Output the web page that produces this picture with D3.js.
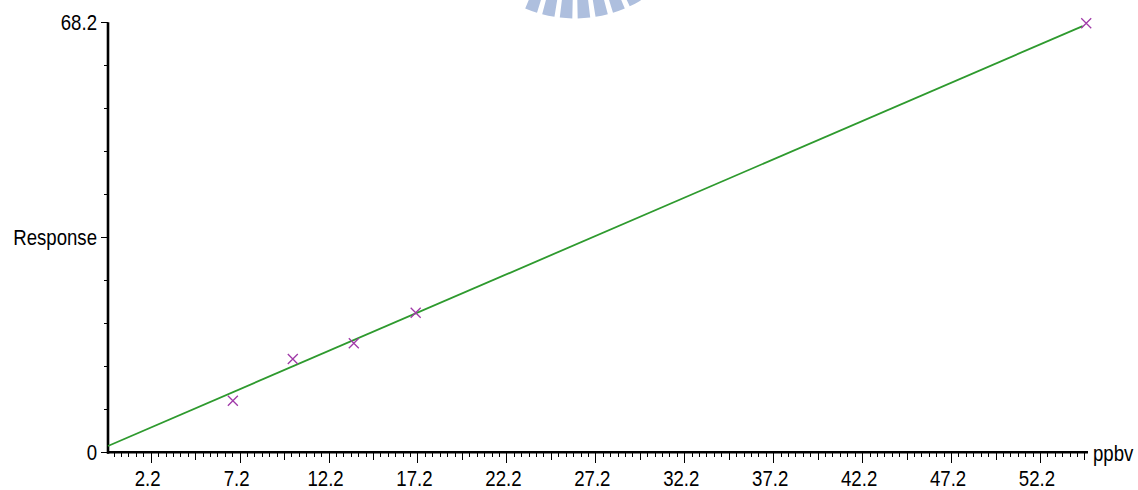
<!DOCTYPE html>
<html><head><meta charset="utf-8">
<script src="https://cdn.jsdelivr.net/npm/d3@7"></script>
<style>html,body{margin:0;padding:0;background:#fff;}svg{display:block;}</style>
</head><body>
<svg id="c" width="1138" height="490"></svg>
<script>
// Data
const pointX = [6.82, 10.19, 13.62, 17.10, 54.8];
const pointY = [8.18, 14.8, 17.29, 22.14, 68.04];
const fitX = [-0.2, 54.6];
const fitY = [1.0, 67.6];
const xTickValues = [2.2, 7.2, 12.2, 17.2, 22.2, 27.2, 32.2, 37.2, 42.2, 47.2, 52.2];
const xTickLabels = ["2.2","7.2","12.2","17.2","22.2","27.2","32.2","37.2","42.2","47.2","52.2"];
const yTickValues = [0, 34.1, 68.2];
const yTickLabels = ["0", "Response", "68.2"];
const xAxisTitle = "ppbv";

const svg = d3.select("#c");
const x = d3.scaleLinear().domain([-0.2, 54.9]).range([108, 1088]);
const y = d3.scaleLinear().domain([0, 68.2]).range([452.3, 22.3]);

const FONT = "'Liberation Sans', Arial, sans-serif";
const FS = 23, SX = 0.81;

// watermark (decorative partial logo at top)
const wm = svg.append("g").attr("transform", "translate(575,-110)");
const arc = d3.arc().innerRadius(95).outerRadius(128.5);
for (let a = -20; a <= 28; a += 8) {
  wm.append("path")
    .attr("d", arc({startAngle: Math.PI - (a + 2.8) * Math.PI / 180, endAngle: Math.PI - (a - 2.8) * Math.PI / 180}))
    .attr("fill", "#aebfde");
}

// minor x ticks
const allMinor = [];
xTickValues.forEach(v => { for (let k = 0; k < 12; k++) allMinor.push(v + k * 5 / 12); });
for (let k = 1; k <= 5; k++) allMinor.push(2.2 - k * 5 / 12);
svg.append("g").selectAll("line").data(allMinor.filter(v => v > -0.1 && v < 54.9))
  .join("line")
  .attr("x1", d => Math.round(x(d)) + 0.5).attr("x2", d => Math.round(x(d)) + 0.5)
  .attr("y1", 452).attr("y2", d => {
    const r = Math.abs(((d - 2.2) / 5) % 1);
    if (r < 0.01 || r > 0.99) return 463;
    if (Math.abs(r - 0.5) < 0.01) return 460;
    return 457;
  })
  .attr("stroke", "#000").attr("stroke-width", 1);

// y minor ticks
const yMinor = d3.range(0, 11).map(i => i * 6.82);
svg.append("g").selectAll("line").data(yMinor).join("line")
  .attr("x1", 104).attr("x2", 108)
  .attr("y1", d => Math.round(y(d)) + 0.5).attr("y2", d => Math.round(y(d)) + 0.5)
  .attr("stroke", "#000");
svg.append("g").selectAll("line").data(yTickValues).join("line")
  .attr("x1", 101).attr("x2", 108)
  .attr("y1", d => Math.round(y(d)) + 0.5).attr("y2", d => Math.round(y(d)) + 0.5)
  .attr("stroke", "#000");

// axes lines
svg.append("line").attr("x1", x(-0.2)).attr("x2", x(-0.2)).attr("y1", y(68.2)).attr("y2", y(0) + 1.5)
  .attr("stroke", "#000").attr("stroke-width", 2.6);
svg.append("line").attr("x1", x(-0.2) - 1).attr("x2", x(54.9)).attr("y1", y(0)).attr("y2", y(0))
  .attr("stroke", "#000").attr("stroke-width", 2.6);

// x tick labels
svg.append("g").selectAll("text").data(xTickValues).join("text")
  .attr("transform", d => `translate(${x(d) - 3},486) scale(${SX},1)`)
  .attr("text-anchor", "middle")
  .attr("font-family", FONT).attr("font-size", FS).attr("fill", "#000")
  .text((d, i) => xTickLabels[i]);

// y tick labels
svg.append("g").selectAll("text").data(yTickValues).join("text")
  .attr("transform", d => `translate(97,${y(d) + 8}) scale(${SX},1)`)
  .attr("text-anchor", "end")
  .attr("font-family", FONT).attr("font-size", FS).attr("fill", "#000")
  .text((d, i) => yTickLabels[i]);

// x axis title
svg.append("text").attr("transform", `translate(1093,461) scale(${SX},1)`)
  .attr("font-family", FONT).attr("font-size", FS).attr("fill", "#000").text(xAxisTitle);

// fit line
svg.append("path")
  .datum(fitX.map((v, i) => [v, fitY[i]]))
  .attr("d", d3.line().x(d => x(d[0])).y(d => y(d[1])))
  .attr("fill", "none").attr("stroke", "#2e9a2e").attr("stroke-width", 1.8);

// points
const s = 5;
svg.append("g").selectAll("path").data(pointX.map((v, i) => [v, pointY[i]])).join("path")
  .attr("d", d => {
    const cx = x(d[0]), cy = y(d[1]);
    return `M${cx - s},${cy - s}L${cx + s},${cy + s}M${cx - s},${cy + s}L${cx + s},${cy - s}`;
  })
  .attr("stroke", "#a03aa8").attr("stroke-width", 1.3).attr("fill", "none");
</script>
</body></html>
